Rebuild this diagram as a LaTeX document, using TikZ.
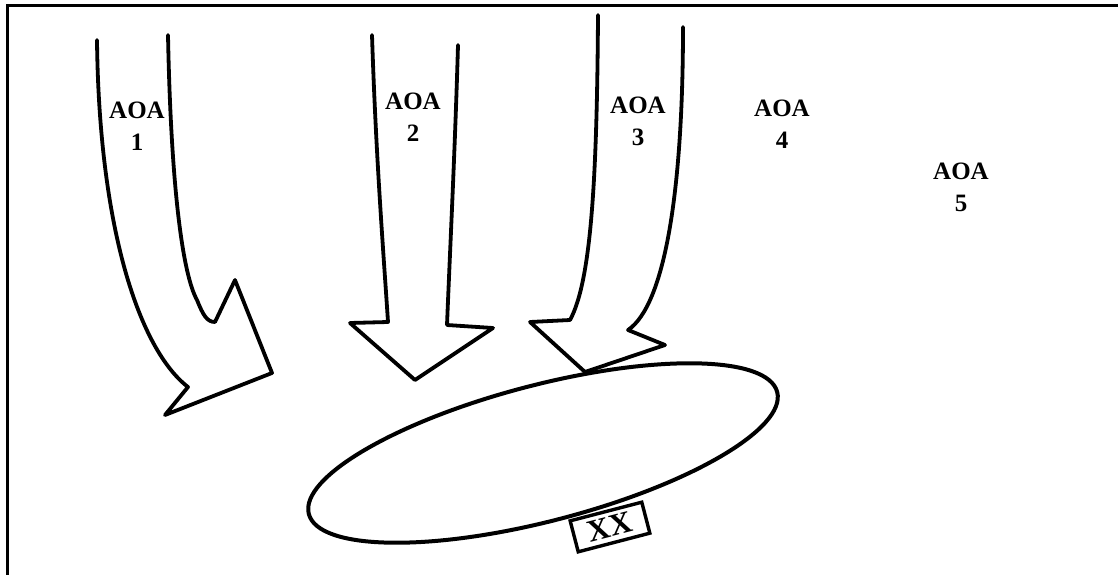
\documentclass[tikz,border=0pt]{standalone}
\usepackage{fontspec}
\setmainfont{Liberation Serif}
\usetikzlibrary{shapes.geometric}
\begin{document}
\begin{tikzpicture}[x=1pt,y=-1pt,
  thrust/.style={line width=3.8pt, line join=round, line cap=round},
  aoa/.style={font=\fontsize{25}{32}\selectfont\bfseries, align=center, inner sep=0pt, anchor=north},
  frameline/.style={line width=3pt},
  force/.style={draw, ellipse, line width=4pt, minimum width=484pt, minimum height=136pt, inner sep=0pt},
  xxbox/.style={draw, line width=3.4pt, minimum width=74pt, minimum height=32pt, inner sep=0pt, font=\fontsize{31}{31}\selectfont\bfseries}]
\useasboundingbox (0,0) rectangle (1118,575);
\fill[white] (0,0) rectangle (1118,575);
% frame
\draw[frameline] (7,580) -- (7,6) -- (1125,6);
% arrow 1
\draw[thrust] (97,40) .. controls (99,230) and (140,350) .. (188,387)
  -- (165,415) -- (272,373) -- (235,280) -- (215,322)
  .. controls (207,322) and (203,315) .. (197,300)
  .. controls (183,275) and (171,190) .. (168,35);
% arrow 2
\draw[thrust] (372,35) .. controls (376,160) and (384,260) .. (388,322)
  -- (350,323) -- (415,380) -- (493,328) -- (447,325)
  .. controls (450,250) and (455,150) .. (458,45);
% arrow 3
\draw[thrust] (598,15) .. controls (597,170) and (592,280) .. (570,320)
  -- (530,322) -- (585,372) -- (665,345) -- (628,330)
  .. controls (665,305) and (683,190) .. (683,27);
% enemy force
\node[force, rotate=14.6] (enemy) at (543,453) {};
\node[xxbox, rotate=14.6] (xx) at (610,527) {\textbf{XX}};
% labels
\node[aoa] (aoa1) at (137,102) {AOA\\1};
\node[aoa] (aoa2) at (413,93) {AOA\\2};
\node[aoa] (aoa3) at (638,97) {AOA\\3};
\node[aoa] (aoa4) at (782,100) {AOA\\4};
\node[aoa] (aoa5) at (961,163) {AOA\\5};
\end{tikzpicture}
\end{document}
